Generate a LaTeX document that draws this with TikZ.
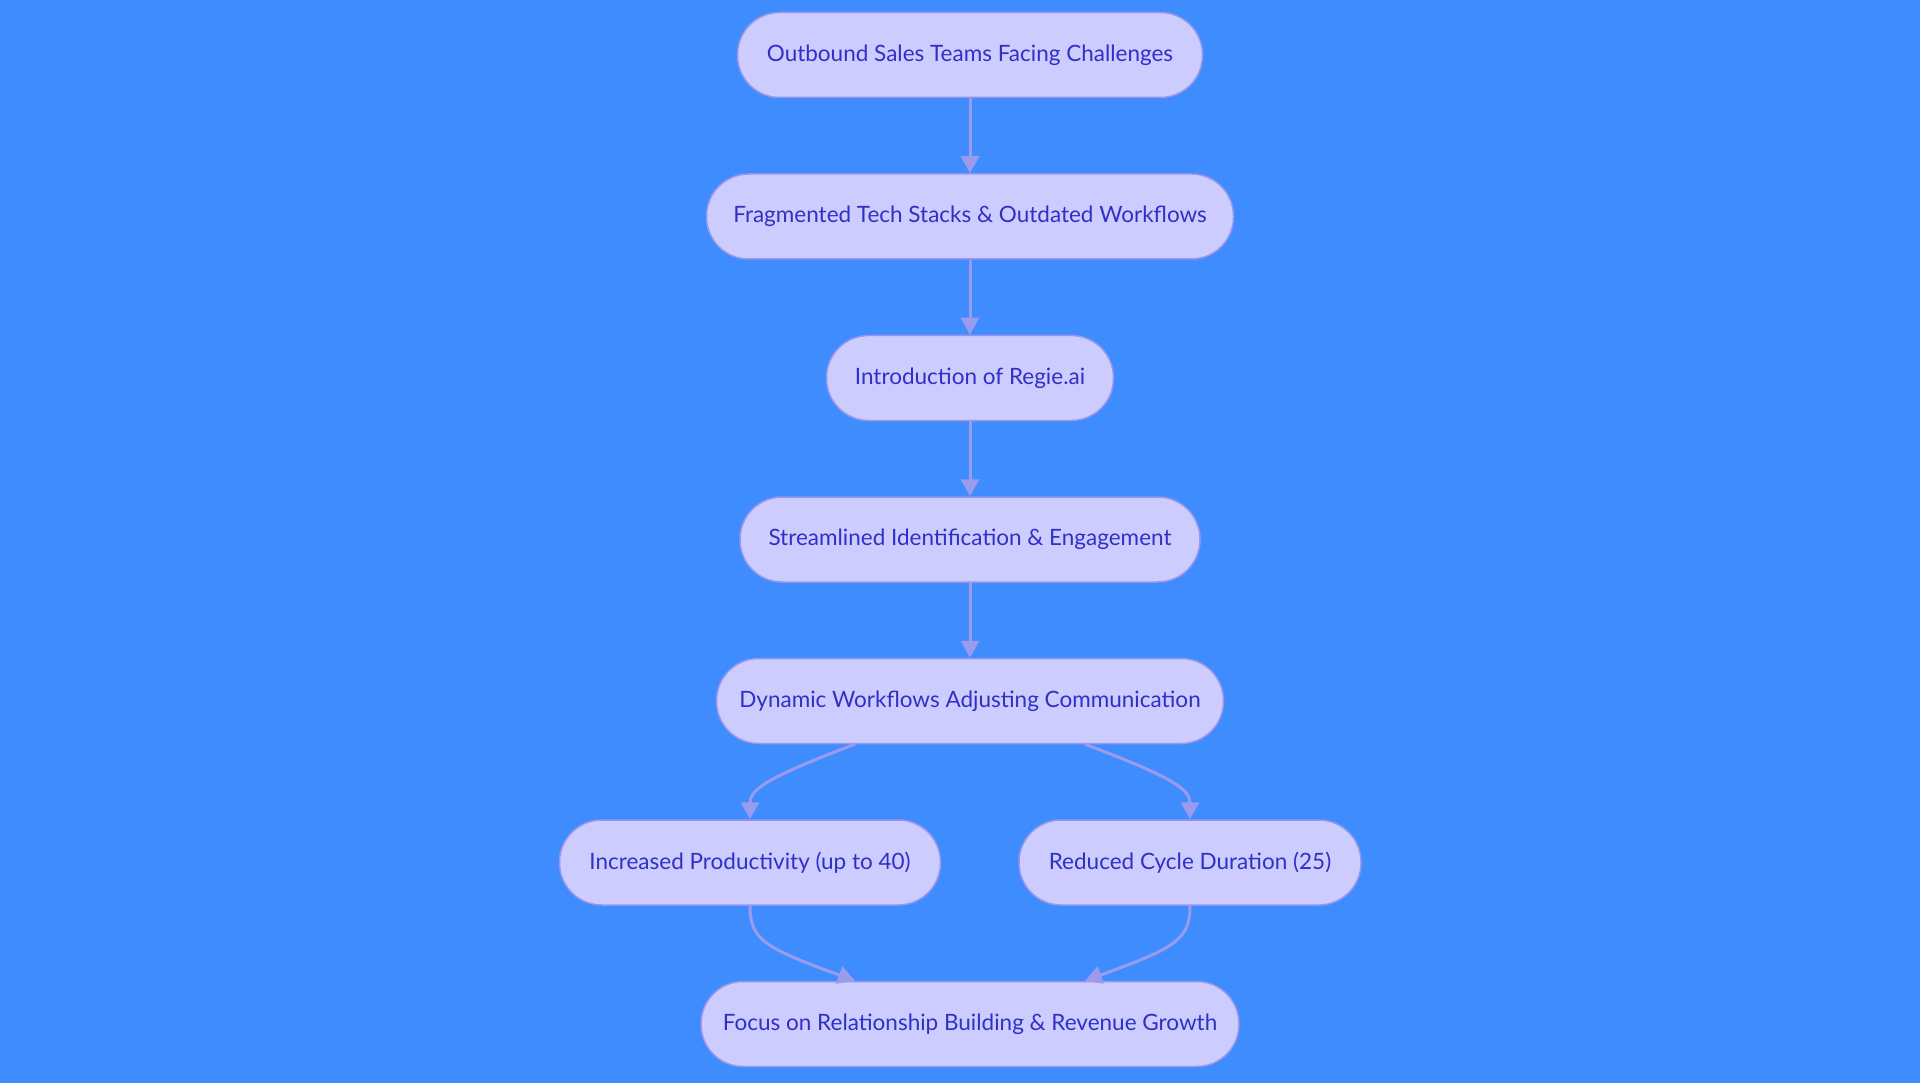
\documentclass[tikz,border=0pt]{standalone}
\usepackage{fontspec}
\setmainfont{Lato}
\usetikzlibrary{arrows.meta}
\definecolor{bgc}{RGB}{63,140,255}
\definecolor{nodefill}{RGB}{204,204,255}
\definecolor{nodeline}{RGB}{150,150,235}
\definecolor{txt}{RGB}{48,48,200}
\definecolor{edge}{RGB}{155,155,238}
\tikzset{
  box/.style={draw=nodeline, line width=1.5pt, fill=nodefill, rounded corners=42pt,
    minimum height=85pt, inner sep=0pt, text=txt, font=\fontsize{22.5}{26}\selectfont},
  link/.style={draw=edge, line width=3pt, -{Triangle[length=17pt,width=18pt]}}
}
\begin{document}
\begin{tikzpicture}[x=1pt,y=-1pt]
\fill[bgc] (0,0) rectangle (1920,1083);
\useasboundingbox (0,0) rectangle (1920,1083);
\node[box, minimum width=465pt] (n1) at (970,55) {Outbound Sales Teams Facing Challenges};
\node[box, minimum width=527pt] (n2) at (970,216.5) {Fragmented Tech Stacks \& Outdated Workflows};
\node[box, minimum width=287pt] (n3) at (970,378) {Introduction of Regie.ai};
\node[box, minimum width=460pt] (n4) at (970,539.5) {Streamlined Identification \& Engagement};
\node[box, minimum width=507pt] (n5) at (970,701) {Dynamic Workflows Adjusting Communication};
\node[box, minimum width=381pt] (n6) at (750,862.5) {Increased Productivity (up to 40)};
\node[box, minimum width=342pt] (n7) at (1190,862.5) {Reduced Cycle Duration (25)};
\node[box, minimum width=538pt] (n8) at (970,1024) {Focus on Relationship Building \& Revenue Growth};
\draw[link] (n1) -- (n2);
\draw[link] (n2) -- (n3);
\draw[link] (n3) -- (n4);
\draw[link] (n4) -- (n5);
\draw[link] (n5.south -| 855,0) .. controls (765,778) and (750,790) .. (n6.north);
\draw[link] (n5.south -| 1085,0) .. controls (1175,778) and (1190,790) .. (n7.north);
\draw[link] (n6.south) .. controls (750,940) and (765,948) .. (n8.north -| 855,0);
\draw[link] (n7.south) .. controls (1190,940) and (1175,948) .. (n8.north -| 1085,0);
\end{tikzpicture}
\end{document}
